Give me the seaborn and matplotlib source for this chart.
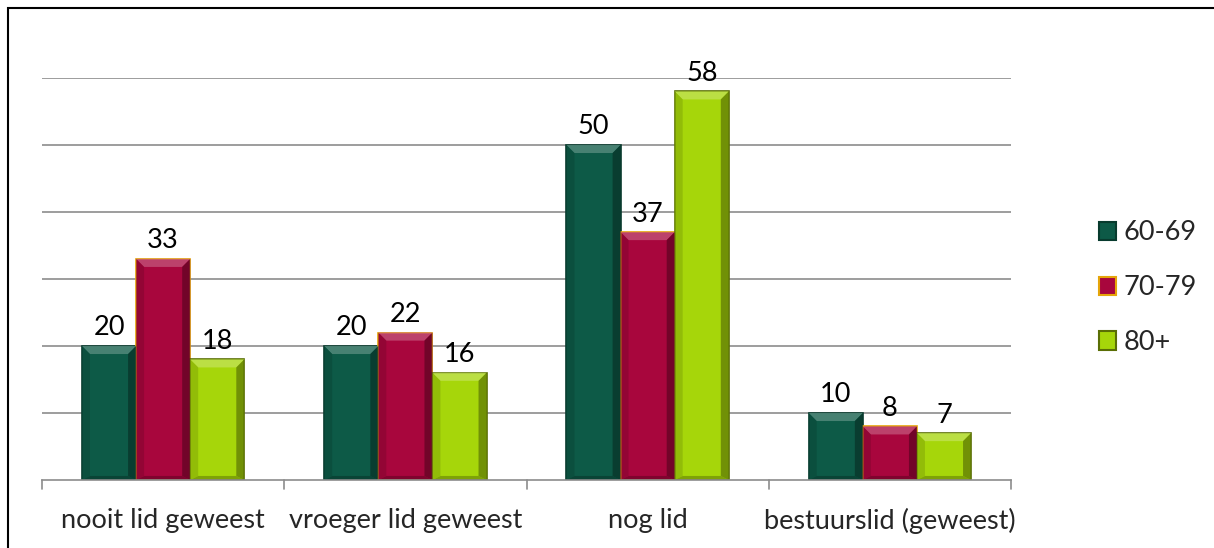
import numpy as np
import pandas as pd
import matplotlib.pyplot as plt
import seaborn as sns
from matplotlib.patches import Polygon, Rectangle
from matplotlib.lines import Line2D
import matplotlib.colors as mcolors

sns.set_theme(style="white")
plt.rcParams["font.family"] = ["Lato", "DejaVu Sans"]

# dati
categorie = ["nooit lid geweest", "vroeger lid geweest", "nog lid", "bestuurslid (geweest)"]
leeftijden = ["60-69", "70-79", "80+"]
waarden_6069 = [20, 20, 50, 10]
waarden_7079 = [33, 22, 37, 8]
waarden_80 = [18, 16, 58, 7]

kleuren = ["#0D5A47", "#A8063D", "#A6D60A"]
randen = ["#083B2E", "#E5A50A", "#5A6E05"]

df = pd.DataFrame({
    "categorie": categorie * 3,
    "leeftijd": np.repeat(leeftijden, len(categorie)),
    "waarde": waarden_6069 + waarden_7079 + waarden_80,
})

fig = plt.figure(figsize=(12.14, 5.48), dpi=100)
ax = fig.add_axes([0.0346, 0.1241, 0.7982, 0.7336])

sns.barplot(data=df, x="categorie", y="waarde", hue="leeftijd", palette=kleuren,
            width=0.67, ax=ax, legend=False, saturation=1)

ax.set_ylim(0, 60)
ax.set_xlim(-0.5, 3.5)
ax.set_yticks([10, 20, 30, 40, 50, 60])
ax.yaxis.grid(True, color="#8C8C8C", linewidth=1.2)
ax.set_axisbelow(True)
ax.tick_params(axis="y", left=False, labelleft=False)
for s in ["top", "right", "left"]:
    ax.spines[s].set_visible(False)
ax.spines["bottom"].set_color("#8C8C8C")
ax.spines["bottom"].set_linewidth(1.2)

# tick tra categorie
ax.set_xticks([0, 1, 2, 3])
ax.set_xticklabels(categorie, fontsize=19.5)
ax.tick_params(axis="x", length=0, pad=20)
for xb in [-0.5, 0.5, 1.5, 2.5, 3.5]:
    ax.add_line(Line2D([xb, xb], [0, -1.3], color="#8C8C8C", lw=1.2, clip_on=False))
ax.set_xlabel("")
ax.set_ylabel("")

# bevel effect en labels
bx, by = 0.033, 1.2
for i, container in enumerate(ax.containers):
    base = np.array(mcolors.to_rgb(kleuren[i]))
    licht = tuple(np.clip(base + (1 - base) * 0.3, 0, 1))
    donker = tuple(base * 0.6)
    for bar in container:
        bar.set_edgecolor(randen[i])
        bar.set_linewidth(1.2)
        x0, w, h = bar.get_x(), bar.get_width(), bar.get_height()
        x1 = x0 + w
        ax.add_patch(Polygon([[x0, h], [x1, h], [x1 - bx, h - by], [x0 + bx, h - by]],
                             closed=True, facecolor=licht, edgecolor="none", alpha=0.8))
        ax.add_patch(Polygon([[x1, h], [x1, 0], [x1 - bx, by * 0.5], [x1 - bx, h - by]],
                             closed=True, facecolor=donker, edgecolor="none", alpha=0.8))
        ax.add_patch(Polygon([[x0, 0], [x1, 0], [x1 - bx, by * 0.5], [x0 + bx, by * 0.5]],
                             closed=True, facecolor=donker, edgecolor="none", alpha=0.6))
        ax.add_patch(Polygon([[x0, h], [x0, 0], [x0 + bx, by * 0.5], [x0 + bx, h - by]],
                             closed=True, facecolor=tuple(base * 0.8), edgecolor="none", alpha=0.6))
    ax.bar_label(container, fmt="%d", padding=4, fontsize=19.5, color="black")

# legenda
handles = [Rectangle((0, 0), 1, 1, facecolor=kleuren[i], edgecolor=randen[i], linewidth=1.5)
           for i in range(3)]
fig.legend(handles, leeftijden, loc="center left", bbox_to_anchor=(0.885, 0.475),
           frameon=False, fontsize=19.5, handlelength=0.65, handleheight=0.65,
           handletextpad=0.25, labelspacing=1.1)

# cornice
fig.patches.append(Rectangle((0.0066, -0.01), 1.2, 1.0 - 0.0146 + 0.01, transform=fig.transFigure,
                             fill=False, edgecolor="black", linewidth=1.5))

fig.savefig("out.png", dpi=100)
